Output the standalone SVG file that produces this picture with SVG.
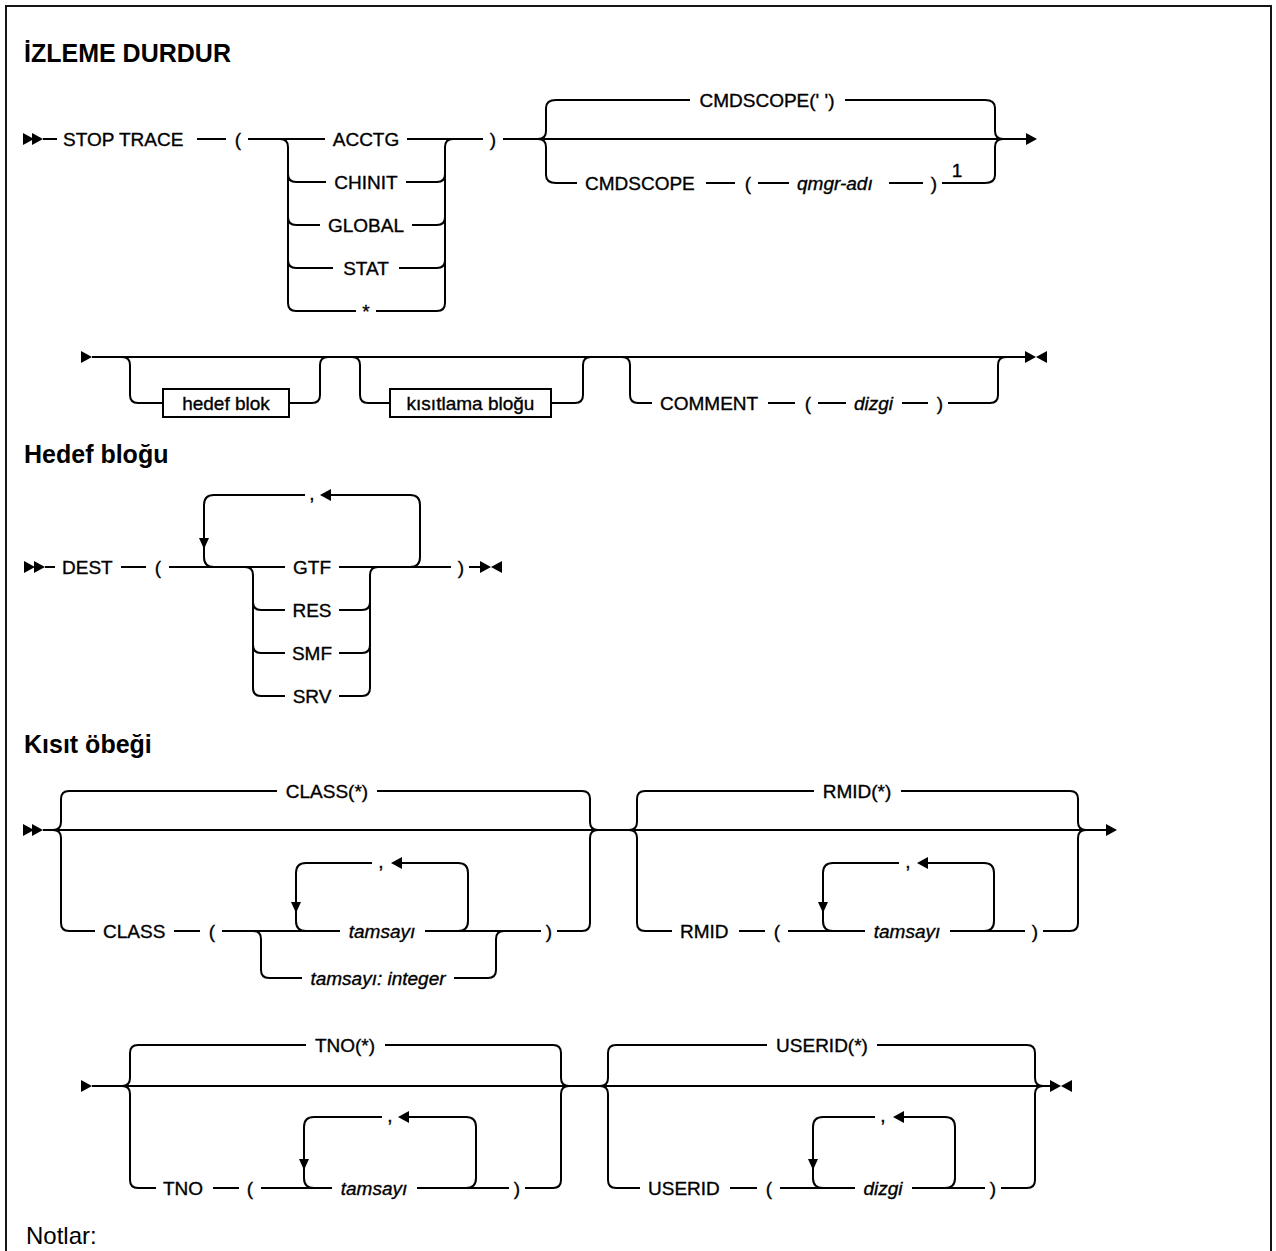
<svg xmlns="http://www.w3.org/2000/svg" width="1276" height="1251" viewBox="0 0 1276 1251">
<style>
.ln{fill:none;stroke:#000;stroke-width:2}
.fr{fill:none;stroke:#161616;stroke-width:2}
.t{font-family:"Liberation Sans",Arial,sans-serif;font-size:19px;fill:#000;stroke:#000;stroke-width:0.35}
.m{text-anchor:middle}
.i{font-style:italic}
.h{font-family:"Liberation Sans",Arial,sans-serif;font-size:25px;font-weight:bold;fill:#000}
.n{font-family:"Liberation Sans",Arial,sans-serif;font-size:24px;fill:#000}
.bx{fill:#fff;stroke:#000;stroke-width:2}
.ah{fill:#000}
</style>
<defs>
<path id="tr" class="ah" d="M-11,-6 L0,0 L-11,6 Z"/>
<path id="tl" class="ah" d="M11,-6 L0,0 L11,6 Z"/>
<path id="td" class="ah" d="M-5,-11 L0,0 L5,-11 Z"/>
</defs>
<rect width="1276" height="1251" fill="#fff"/>
<path class="fr" d="M6,1260 V6 H1271 V1260"/>

<g id="headings">
<text class="h" x="24" y="62">İZLEME DURDUR</text>
<text class="h" x="24" y="463">Hedef bloğu</text>
<text class="h" x="24" y="753">Kısıt öbeği</text>
<text class="n" x="26" y="1244">Notlar:</text>
</g>

<g id="connectors">
<!-- row 1 -->
<path class="ln" d="M43,139 H57 M197,139 H226 M248,139 H325 M407,139 H483 M503,139 H1026"/>
<path class="ln" d="M280,139 Q288,139 288,147 V303 Q288,311 296,311 M288,174 Q288,182 296,182 M288,217 Q288,225 296,225 M288,260 Q288,268 296,268"/>
<path class="ln" d="M445,147 Q445,139 453,139 M437,311 Q445,311 445,303 V147 M437,182 Q445,182 445,174 M437,225 Q445,225 445,217 M437,268 Q445,268 445,260"/>
<path class="ln" d="M296,182 H326 M406,182 H437 M296,225 H320 M412,225 H437 M296,268 H333 M399,268 H437 M296,311 H356 M376,311 H437"/>
<path class="ln" d="M556,100 Q546,100 546,108 V131 Q546,139 538,139 M556,183 Q546,183 546,175 V147 Q546,139 538,139"/>
<path class="ln" d="M985,100 Q995,100 995,108 V131 Q995,139 1003,139 M985,183 Q995,183 995,175 V147 Q995,139 1003,139"/>
<path class="ln" d="M556,100 H690 M845,100 H985 M556,183 H577 M706,183 H735 M758,183 H789 M889,183 H923 M942,183 H985"/>
<use href="#tr" x="34" y="139"/><use href="#tr" x="43" y="139"/>
<use href="#tr" x="1037" y="139"/>
<!-- row 2 -->
<path class="ln" d="M92,357 H1026"/>
<path class="ln" d="M122,357 Q130,357 130,365 V395 Q130,403 138,403 H163 M289,403 H312 Q320,403 320,395 V365 Q320,357 328,357"/>
<path class="ln" d="M352,357 Q360,357 360,365 V395 Q360,403 368,403 H390 M551,403 H575 Q583,403 583,395 V365 Q583,357 591,357"/>
<path class="ln" d="M622,357 Q630,357 630,365 V395 Q630,403 638,403 H652 M768,403 H795 M818,403 H846 M902,403 H928 M948,403 H990 Q998,403 998,395 V365 Q998,357 1006,357"/>
<use href="#tr" x="92" y="357"/>
<use href="#tr" x="1036" y="357"/><use href="#tl" x="1036" y="357"/>
<!-- DEST -->
<path class="ln" d="M45,567 H55 M121,567 H146 M169,567 H285 M339,567 H451 M469,567 H480"/>
<path class="ln" d="M305,495 H214 Q204,495 204,505 V557 Q204,567 214,567 M331,495 H410 Q420,495 420,505 V557 Q420,567 410,567"/>
<path class="ln" d="M245,567 Q253,567 253,575 V688 Q253,696 261,696 M253,602 Q253,610 261,610 M253,645 Q253,653 261,653"/>
<path class="ln" d="M370,575 Q370,567 378,567 M362,696 Q370,696 370,688 V575 M362,610 Q370,610 370,602 M362,653 Q370,653 370,645"/>
<path class="ln" d="M261,610 H285 M339,610 H362 M261,653 H285 M339,653 H362 M261,696 H285 M339,696 H362"/>
<use href="#tr" x="35" y="567"/><use href="#tr" x="45" y="567"/>
<use href="#td" x="204" y="549"/><use href="#tl" x="320" y="495"/>
<use href="#tr" x="491" y="567"/><use href="#tl" x="491" y="567"/>
<!-- CLASS / RMID -->
<path class="ln" d="M43,830 H1106"/>
<path class="ln" d="M69,791 Q61,791 61,799 V822 Q61,830 53,830 M69,931 Q61,931 61,923 V838 Q61,830 53,830"/>
<path class="ln" d="M582,791 Q590,791 590,799 V822 Q590,830 598,830 M582,931 Q590,931 590,923 V838 Q590,830 598,830"/>
<path class="ln" d="M69,791 H277 M377,791 H582 M69,931 H95 M174,931 H200 M222,931 H340 M425,931 H541 M557,931 H582"/>
<path class="ln" d="M253,931 Q261,931 261,939 V970 Q261,978 269,978 H302 M454,978 H488 Q496,978 496,970 V939 Q496,931 504,931"/>
<path class="ln" d="M372,863 H306 Q296,863 296,873 V921 Q296,931 306,931 M402,863 H458 Q468,863 468,873 V921 Q468,931 458,931"/>
<use href="#tr" x="34" y="830"/><use href="#tr" x="43" y="830"/>
<use href="#td" x="296" y="913"/><use href="#tl" x="391" y="863"/>
<path class="ln" d="M645,791 Q637,791 637,799 V822 Q637,830 629,830 M645,931 Q637,931 637,923 V838 Q637,830 629,830"/>
<path class="ln" d="M1070,791 Q1078,791 1078,799 V822 Q1078,830 1086,830 M1070,931 Q1078,931 1078,923 V838 Q1078,830 1086,830"/>
<path class="ln" d="M645,791 H814 M901,791 H1070 M645,931 H672 M739,931 H765 M788,931 H865 M950,931 H1025 M1043,931 H1070"/>
<path class="ln" d="M899,863 H833 Q823,863 823,873 V921 Q823,931 833,931 M928,863 H984 Q994,863 994,873 V921 Q994,931 984,931"/>
<use href="#td" x="823" y="913"/><use href="#tl" x="917" y="863"/>
<use href="#tr" x="1117" y="830"/>
<!-- TNO / USERID -->
<path class="ln" d="M92,1086 H1050"/>
<path class="ln" d="M138,1045 Q130,1045 130,1053 V1078 Q130,1086 122,1086 M138,1188 Q130,1188 130,1180 V1094 Q130,1086 122,1086"/>
<path class="ln" d="M553,1045 Q561,1045 561,1053 V1078 Q561,1086 569,1086 M553,1188 Q561,1188 561,1180 V1094 Q561,1086 569,1086"/>
<path class="ln" d="M138,1045 H306 M385,1045 H553 M138,1188 H156 M213,1188 H239 M261,1188 H332 M417,1188 H509 M525,1188 H553"/>
<path class="ln" d="M382,1117 H314 Q304,1117 304,1127 V1178 Q304,1188 314,1188 M409,1117 H466 Q476,1117 476,1127 V1178 Q476,1188 466,1188"/>
<use href="#tr" x="92" y="1086"/>
<use href="#td" x="304" y="1170"/><use href="#tl" x="398" y="1117"/>
<path class="ln" d="M616,1045 Q608,1045 608,1053 V1078 Q608,1086 600,1086 M616,1188 Q608,1188 608,1180 V1094 Q608,1086 600,1086"/>
<path class="ln" d="M1027,1045 Q1035,1045 1035,1053 V1078 Q1035,1086 1043,1086 M1027,1188 Q1035,1188 1035,1180 V1094 Q1035,1086 1043,1086"/>
<path class="ln" d="M616,1045 H767 M877,1045 H1027 M616,1188 H640 M730,1188 H757 M780,1188 H855 M912,1188 H985 M1001,1188 H1027"/>
<path class="ln" d="M875,1117 H823 Q813,1117 813,1127 V1178 Q813,1188 823,1188 M904,1117 H945 Q955,1117 955,1127 V1178 Q955,1188 945,1188"/>
<use href="#td" x="813" y="1170"/><use href="#tl" x="893" y="1117"/>
<use href="#tr" x="1061" y="1086"/><use href="#tl" x="1061" y="1086"/>
</g>

<g id="n-stoptrace"><text class="t" x="63" y="145.5">STOP TRACE</text></g>
<g id="n-lp1"><text class="t m" x="238" y="145.5">(</text></g>
<g id="n-acctg"><text class="t m" x="366" y="145.5">ACCTG</text></g>
<g id="n-chinit"><text class="t m" x="366" y="188.5">CHINIT</text></g>
<g id="n-global"><text class="t m" x="366" y="231.5">GLOBAL</text></g>
<g id="n-stat"><text class="t m" x="366" y="274.5">STAT</text></g>
<g id="n-star"><text class="t m" x="366" y="317.5">*</text></g>
<g id="n-rp1"><text class="t m" x="493" y="145.5">)</text></g>
<g id="n-cmdscope-def"><text class="t m" x="767" y="106.5">CMDSCOPE(' ')</text></g>
<g id="n-cmdscope"><text class="t" x="585" y="189.5">CMDSCOPE</text></g>
<g id="n-lp2"><text class="t m" x="748" y="189.5">(</text></g>
<g id="n-qmgr"><text class="t i" x="797" y="189.5">qmgr-adı</text></g>
<g id="n-rp2"><text class="t m" x="934" y="189.5">)</text></g>
<g id="n-note1"><text class="t m" x="957" y="177">1</text></g>

<g id="n-hedefblok"><rect class="bx" x="163" y="389" width="126" height="28"/><text class="t m" x="226" y="409.5">hedef blok</text></g>
<g id="n-kisitlama"><rect class="bx" x="390" y="389" width="161" height="28"/><text class="t m" x="470.5" y="409.5">kısıtlama bloğu</text></g>
<g id="n-comment"><text class="t" x="660" y="409.5">COMMENT</text></g>
<g id="n-lp3"><text class="t m" x="808" y="409.5">(</text></g>
<g id="n-dizgi1"><text class="t i" x="854" y="409.5">dizgi</text></g>
<g id="n-rp3"><text class="t m" x="940" y="409.5">)</text></g>

<g id="n-dest"><text class="t" x="62" y="573.5">DEST</text></g>
<g id="n-lp4"><text class="t m" x="158" y="573.5">(</text></g>
<g id="n-comma1"><text class="t m" x="312" y="500">,</text></g>
<g id="n-gtf"><text class="t m" x="312" y="573.5">GTF</text></g>
<g id="n-res"><text class="t m" x="312" y="616.5">RES</text></g>
<g id="n-smf"><text class="t m" x="312" y="659.5">SMF</text></g>
<g id="n-srv"><text class="t m" x="312" y="702.5">SRV</text></g>
<g id="n-rp4"><text class="t m" x="461" y="573.5">)</text></g>

<g id="n-class-def"><text class="t m" x="327" y="797.5">CLASS(*)</text></g>
<g id="n-class"><text class="t" x="103" y="937.5">CLASS</text></g>
<g id="n-lp5"><text class="t m" x="212" y="937.5">(</text></g>
<g id="n-comma2"><text class="t m" x="381" y="868">,</text></g>
<g id="n-tamsayi1"><text class="t m i" x="382" y="937.5">tamsayı</text></g>
<g id="n-tamsayi-int"><text class="t m i" x="378" y="984.5">tamsayı: integer</text></g>
<g id="n-rp5"><text class="t m" x="549" y="937.5">)</text></g>

<g id="n-rmid-def"><text class="t m" x="857" y="797.5">RMID(*)</text></g>
<g id="n-rmid"><text class="t" x="680" y="937.5">RMID</text></g>
<g id="n-lp6"><text class="t m" x="777" y="937.5">(</text></g>
<g id="n-comma3"><text class="t m" x="908" y="868">,</text></g>
<g id="n-tamsayi2"><text class="t m i" x="907" y="937.5">tamsayı</text></g>
<g id="n-rp6"><text class="t m" x="1035" y="937.5">)</text></g>

<g id="n-tno-def"><text class="t m" x="345" y="1051.5">TNO(*)</text></g>
<g id="n-tno"><text class="t" x="163" y="1194.5">TNO</text></g>
<g id="n-lp7"><text class="t m" x="250" y="1194.5">(</text></g>
<g id="n-comma4"><text class="t m" x="390" y="1122">,</text></g>
<g id="n-tamsayi3"><text class="t m i" x="374" y="1194.5">tamsayı</text></g>
<g id="n-rp7"><text class="t m" x="517" y="1194.5">)</text></g>

<g id="n-userid-def"><text class="t m" x="822" y="1051.5">USERID(*)</text></g>
<g id="n-userid"><text class="t" x="648" y="1194.5">USERID</text></g>
<g id="n-lp8"><text class="t m" x="769" y="1194.5">(</text></g>
<g id="n-comma5"><text class="t m" x="883" y="1122">,</text></g>
<g id="n-dizgi2"><text class="t m i" x="883" y="1194.5">dizgi</text></g>
<g id="n-rp8"><text class="t m" x="993" y="1194.5">)</text></g>
</svg>
